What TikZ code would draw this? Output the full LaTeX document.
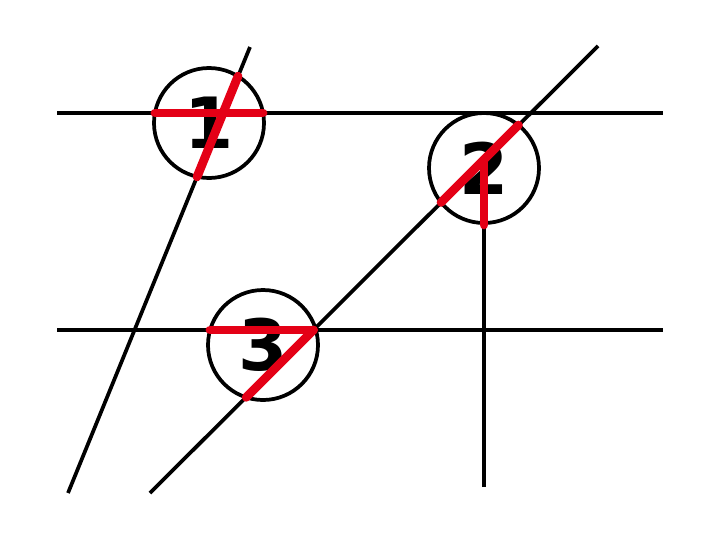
\documentclass[tikz,border=0pt]{standalone}
\usepackage{fontspec}
\setsansfont{DejaVu Sans}
\usetikzlibrary{shapes.geometric}
\definecolor{markred}{RGB}{228,0,22}

\begin{document}
\begin{tikzpicture}[
    x=0.75pt, y=-0.75pt,
    line/.style={draw=black, line width=2.8pt},
    ring/.style={circle, draw=black, line width=2.8pt, minimum size=82.5pt, inner sep=0pt, font=\sffamily\bfseries\fontsize{53}{53}\selectfont},
    redline/.style={draw=markred, line width=6.6pt, line cap=round}
]
\useasboundingbox (0,0) rectangle (720,540);

% Points
\coordinate (h1w) at (57,113);
\coordinate (h1e) at (663,113);
\coordinate (h2w) at (57,330);
\coordinate (h2e) at (663,330);
\coordinate (sbot) at (68,493);
\coordinate (stop) at (250,47);
\coordinate (dbot) at (150,493);
\coordinate (dtop) at (598,46);
\coordinate (vbot) at (484,487);
\coordinate (vtop) at (484,159.5);

% Lines
\draw [line] (h1w) -- (h1e);
\draw [line] (h2w) -- (h2e);
\draw [line] (sbot) -- (stop);
\draw [line] (dbot) -- (dtop);
\draw [line] (vbot) -- (vtop);

% Circles
\node (c1) [ring] at (209,123) {1};
\node (c2) [ring] at (484,168) {2};
\node (c3) [ring] at (263,345) {3};

% Chords
\coordinate (a1) at (155,113);
\coordinate (b1) at (263,113);
\coordinate (a2) at (238,76.3);
\coordinate (b2) at (197.1,176.7);
\coordinate (a3) at (518.4,125.1);
\coordinate (b3) at (441.1,202.4);
\coordinate (a4) at (210,330);
\coordinate (x34) at (313.5,330);
\coordinate (b5) at (246.2,397.3);

\draw [redline] (a1) -- (b1);
\draw [redline] (a2) -- (b2);
\draw [redline] (a3) -- (b3);
\draw [redline] (vtop) -- (c2.south);
\draw [redline] (a4) -- (x34);
\draw [redline] (x34) -- (b5);

\end{tikzpicture}
\end{document}
